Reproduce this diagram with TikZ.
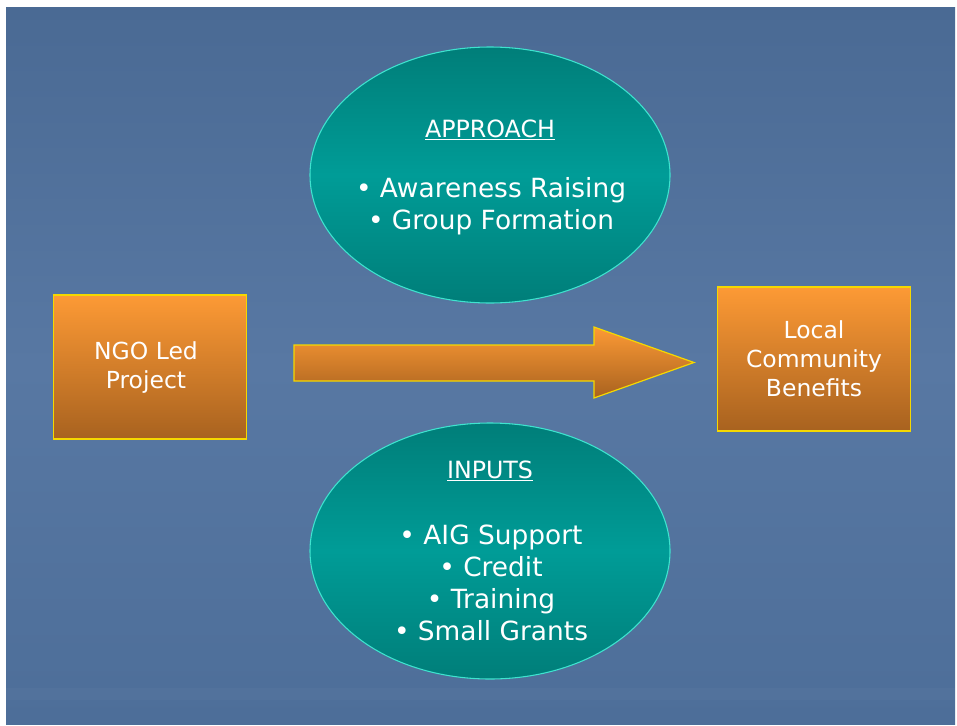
\documentclass[tikz,border=0pt]{standalone}
\usepackage{fontspec}
\setmainfont{DejaVu Sans}
\usetikzlibrary{shapes.geometric}
\definecolor{bgTop}{HTML}{4A6A94}
\definecolor{bgMid}{HTML}{5878A3}
\definecolor{bgBot}{HTML}{4D6E99}
\definecolor{orTop}{HTML}{FD9A35}
\definecolor{orBot}{HTML}{A8621F}
\definecolor{tealEdge}{HTML}{007E79}
\definecolor{tealMid}{HTML}{009C97}
\definecolor{tealLine}{HTML}{3FE3CF}
\definecolor{yelLine}{HTML}{F5D800}
\tikzset{
  oval/.style={ellipse, draw=tealLine, line width=0.8pt, top color=tealEdge, bottom color=tealEdge, middle color=tealMid,
    minimum width=270pt, minimum height=192pt, inner sep=0pt},
  obox/.style={rectangle, draw=yelLine, line width=0.9pt, top color=orTop, bottom color=orBot,
    minimum width=144.75pt, minimum height=108pt, inner sep=0pt, align=center, text=white,
    font=\fontsize{17.6}{21.75}\selectfont},
  head/.style={text=white, font=\fontsize{17.8}{22}\selectfont, inner sep=0pt},
  items/.style={text=white, align=center, font=\fontsize{19.8}{24}\selectfont, inner sep=0pt},
  bigarrow/.style={draw=yelLine, line width=0.9pt, top color=orTop, bottom color=orBot}
}
\begin{document}
\begin{tikzpicture}[x=0.75pt,y=-0.75pt]
\useasboundingbox (0,0) rectangle (957,725);
\fill[white] (0,0) rectangle (957,725);
\shade[top color=bgTop, bottom color=bgBot, middle color=bgMid] (6,7) rectangle (955,724);
\fill[white, opacity=0.025] (6,688) rectangle (955,700);
% ellipses
\node[oval] (approach) at (490,175) {};
\node[oval] (inputs) at (490,551) {};
\node[head] (apphead) at (490,130) {\underline{APPROACH}};
\node[items] (appitems) at (491,206) {• Awareness Raising\\• Group Formation};
\node[head] (inhead) at (490,471) {\underline{INPUTS}};
\node[items] (initems) at (491,583) {• AIG Support\\• Credit\\• Training\\• Small Grants};
% boxes
\node[obox] (ngo) at (150,367) {};
\node[text=white, align=center, font=\fontsize{17.6}{21.75}\selectfont, inner sep=0pt] (ngotext) at (146,368) {NGO Led\\ Project};
\node[obox] (local) at (814,359) {Local\\Community\\Benefits};
% arrow
\coordinate (atail) at (294,363);
\coordinate (atip) at (694,362.5);
\path[bigarrow] (294,345) -- (594,345) -- (594,327) -- (atip) -- (594,398) -- (594,381) -- (294,381) -- cycle;
\end{tikzpicture}
\end{document}
